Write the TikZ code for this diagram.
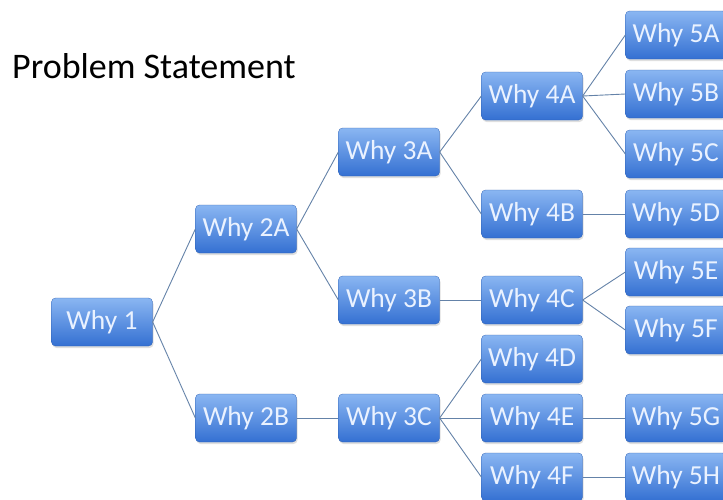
\documentclass[tikz,border=0pt]{standalone}
\usepackage{fontspec}
\setmainfont{Carlito}
\usetikzlibrary{shadows}
\definecolor{boxtop}{RGB}{138,182,242}
\definecolor{boxbot}{RGB}{52,112,210}
\definecolor{boxtext}{RGB}{234,242,255}
\definecolor{linkcol}{RGB}{100,130,168}

\begin{document}
\begin{tikzpicture}[x=1pt, y=-1pt,
		why/.style={rectangle, rounded corners=4pt, minimum width=101pt, minimum height=48pt, inner sep=0pt,
			top color=boxtop, bottom color=boxbot, draw=boxbot!85!black, line width=0.3pt,
			text=boxtext, font=\fontsize{27.5}{27.5}\selectfont,
			drop shadow={opacity=0.25, shadow xshift=1pt, shadow yshift=-2pt}},
		link/.style={draw=linkcol, line width=0.9pt}]
			%%%%% START %%%%%
			
			\useasboundingbox (0, 0) rectangle (723, 499);
			\clip (0, 0) rectangle (723, 499);
			
			\node[anchor=base west, inner sep=0pt, font=\fontsize{36}{36}\selectfont] (title) at (12, 78) {Problem Statement};
			
			\node[why] (w1) at (102, 322) {Why 1};
			
			\node[why] (w2a) at (246, 229) {Why 2A};
			\node[why] (w2b) at (246, 418) {Why 2B};
			
			\node[why] (w3a) at (389, 152) {Why 3A};
			\node[why] (w3b) at (389, 300) {Why 3B};
			\node[why] (w3c) at (389, 418) {Why 3C};
			
			\node[why] (w4a) at (532, 96) {Why 4A};
			\node[why] (w4b) at (532, 214) {Why 4B};
			\node[why] (w4c) at (532, 300) {Why 4C};
			\node[why] (w4d) at (532, 359) {Why 4D};
			\node[why] (w4e) at (532, 418) {Why 4E};
			\node[why] (w4f) at (532, 477) {Why 4F};
			
			\node[why] (w5a) at (676, 35) {Why 5A};
			\node[why] (w5b) at (676, 94) {Why 5B};
			\node[why] (w5c) at (676, 154) {Why 5C};
			\node[why] (w5d) at (676, 214) {Why 5D};
			\node[why] (w5e) at (676, 272) {Why 5E};
			\node[why] (w5f) at (676, 330) {Why 5F};
			\node[why] (w5g) at (676, 418) {Why 5G};
			\node[why] (w5h) at (676, 477) {Why 5H};
			
			\draw[link] (w1.east) -- (w2a.west);
			\draw[link] (w1.east) -- (w2b.west);
			
			\draw[link] (w2a.east) -- (w3a.west);
			\draw[link] (w2a.east) -- (w3b.west);
			\draw[link] (w2b.east) -- (w3c.west);
			
			\draw[link] (w3a.east) -- (w4a.west);
			\draw[link] (w3a.east) -- (w4b.west);
			\draw[link] (w3b.east) -- (w4c.west);
			\draw[link] (w3c.east) -- (w4d.west);
			\draw[link] (w3c.east) -- (w4e.west);
			\draw[link] (w3c.east) -- (w4f.west);
			
			\draw[link] (w4a.east) -- (w5a.west);
			\draw[link] (w4a.east) -- (w5b.west);
			\draw[link] (w4a.east) -- (w5c.west);
			\draw[link] (w4b.east) -- (w5d.west);
			\draw[link] (w4c.east) -- (w5e.west);
			\draw[link] (w4c.east) -- (w5f.west);
			\draw[link] (w4e.east) -- (w5g.west);
			\draw[link] (w4f.east) -- (w5h.west);
			
			%%%%% END %%%%%
\end{tikzpicture}
\end{document}
